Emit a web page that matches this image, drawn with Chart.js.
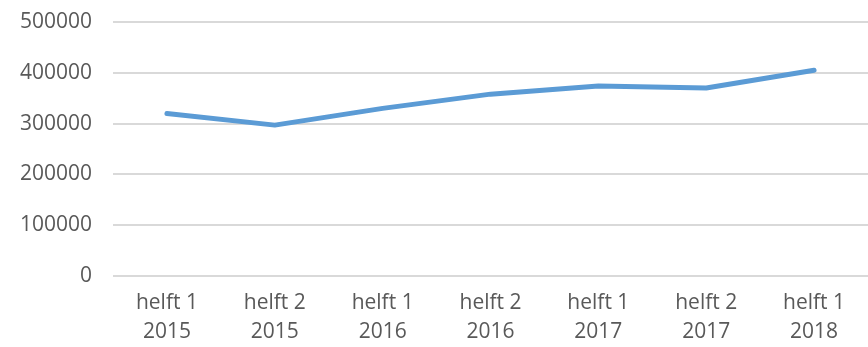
<!DOCTYPE html>
<html>
<head>
<meta charset="utf-8">
<script src="https://cdn.jsdelivr.net/npm/chart.js@4/dist/chart.umd.min.js"></script>
<style>
  html, body { margin: 0; padding: 0; background: #ffffff; }
  #wrap { width: 868px; height: 347px; position: relative; }
</style>
</head>
<body>
<div id="wrap"><canvas id="chart"></canvas></div>
<script>
// Half-year periods shown on the x axis (each label is two lines)
const categories = [
  ['helft 1', '2015'],
  ['helft 2', '2015'],
  ['helft 1', '2016'],
  ['helft 2', '2016'],
  ['helft 1', '2017'],
  ['helft 2', '2017'],
  ['helft 1', '2018']
];

// Totals per half year
const values = [320000, 297000, 330000, 358000, 374000, 370000, 405000];

// Y axis range and step
const yMin = 0;
const yMax = 500000;
const yStep = 100000;

const textColor = '#595959';
const gridColor = '#d9d9d9';
const lineColor = '#5b9bd5';
const fontFamily = '"Open Sans", "Liberation Sans", sans-serif';

new Chart(document.getElementById('chart'), {
  type: 'line',
  data: {
    labels: categories,
    datasets: [{
      data: values,
      borderColor: lineColor,
      backgroundColor: lineColor,
      borderWidth: 5,
      borderCapStyle: 'round',
      borderJoinStyle: 'round',
      pointRadius: 0,
      pointHoverRadius: 0,
      tension: 0,
      fill: false
    }]
  },
  options: {
    responsive: true,
    maintainAspectRatio: false,
    animation: false,
    layout: { padding: { top: 22, right: 0, bottom: 0, left: 0 } },
    plugins: {
      legend: { display: false },
      tooltip: { enabled: false }
    },
    scales: {
      x: {
        offset: true,
        afterFit(scale) { scale.height = 71; },
        grid: { display: false, drawTicks: false },
        border: { display: false },
        ticks: {
          color: textColor,
          padding: 13,
          maxRotation: 0,
          autoSkip: false,
          font: { family: fontFamily, size: 21, lineHeight: 1.38 }
        }
      },
      y: {
        min: yMin,
        max: yMax,
        afterFit(scale) {
          // fixed axis width; the top label fits inside the layout padding
          scale.width = 113;
          scale.paddingTop = 0;
          scale.paddingBottom = 0;
        },
        grid: { color: gridColor, lineWidth: 2, drawTicks: false },
        border: { display: false },
        ticks: {
          stepSize: yStep,
          color: textColor,
          padding: 21,
          font: { family: fontFamily, size: 21 },
          callback: (v) => String(v)
        }
      }
    }
  }
});
</script>
</body>
</html>
